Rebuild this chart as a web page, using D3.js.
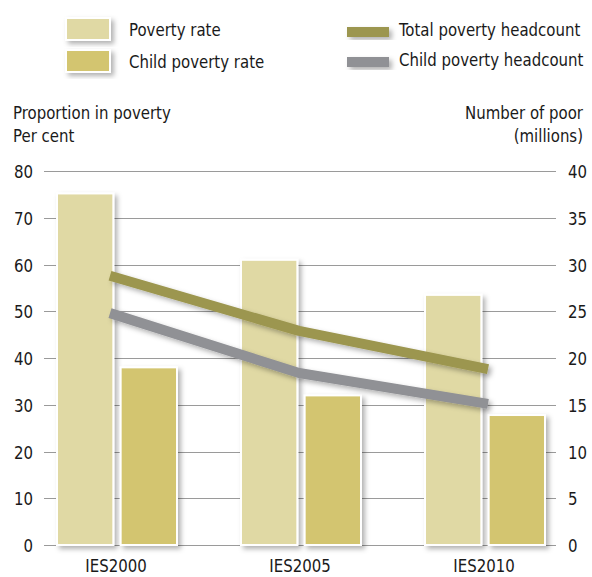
<!DOCTYPE html>
<html>
<head>
<meta charset="utf-8">
<script src="https://cdn.jsdelivr.net/npm/d3@7/dist/d3.min.js"></script>
<style>
  html, body { margin: 0; padding: 0; background: #fff; }
  svg { display: block; }
  text { font-family: "DejaVu Sans Condensed", "Liberation Sans Narrow", sans-serif; fill: #1a1a1a; font-size: 18.5px; }
</style>
</head>
<body>
<svg id="chart" width="592" height="577"></svg>
<script>
// Survey rounds
const categories = ["IES2000", "IES2005", "IES2010"];
// Per cent of population below the poverty line
const povertyRate = [75.2, 61, 53.5];
const childPovertyRate = [38, 32, 27.8];
// Number of poor, millions
const totalHeadcount = [28.8, 22.9, 18.8];
const childHeadcount = [24.8, 18.4, 15.1];
// Axis ticks
const leftTicks = [0, 10, 20, 30, 40, 50, 60, 70, 80];
const rightTicks = [0, 5, 10, 15, 20, 25, 30, 35, 40];

const colors = {
  pov: "#e0d9a4",
  child: "#d3c56f",
  total: "#9c964f",
  childLine: "#909195",
  grid: "#9a9a9a"
};

// Narrow the glyphs horizontally to get a condensed face
const SQUEEZE = "scale(0.9,1)";

const svg = d3.select("#chart");

const defs = svg.append("defs");
const shadow = defs.append("filter").attr("id", "shadow")
  .attr("x", "-20%").attr("y", "-20%").attr("width", "150%").attr("height", "150%");
shadow.append("feDropShadow")
  .attr("dx", 3).attr("dy", 3).attr("stdDeviation", 2.5)
  .attr("flood-color", "#000").attr("flood-opacity", 0.3);

// Scales
const yLeft = d3.scaleLinear().domain([0, 80]).range([545, 171]);
const yRight = d3.scaleLinear().domain([0, 40]).range([545, 171]);
const xGroup = d3.scaleBand().domain(categories).range([57, 609]).paddingInner(0).paddingOuter(0);
const xSeries = d3.scaleBand().domain(["pov", "child"]).range([0, 120]).paddingInner(0.115);
// Headcount lines run from the right edge of the first bar to just past the last group
const xLine = d3.scalePoint().domain(categories).range([110, 488]);

// Place a squeezed text at (x, y)
function label(parent, x, y, txt, anchor) {
  return parent.append("g").attr("transform", `translate(${x},${y}) ${SQUEEZE}`)
    .append("text").attr("text-anchor", anchor || "start").text(txt);
}

// Grid lines with ticks on both sides
svg.append("g").selectAll("line").data(leftTicks).join("line")
  .attr("x1", 44).attr("x2", 556)
  .attr("y1", d => Math.round(yLeft(d)) + 0.5)
  .attr("y2", d => Math.round(yLeft(d)) + 0.5)
  .attr("stroke", colors.grid).attr("stroke-width", 1.2);

const leftAxis = d3.axisLeft(yLeft).tickValues(leftTicks).tickSize(0).tickPadding(0);
const gl = svg.append("g").attr("transform", "translate(33,0)").call(leftAxis);
gl.select(".domain").remove();
gl.attr("font-size", null).attr("font-family", null);
gl.selectAll("text").attr("dy", "0.36em").attr("transform", SQUEEZE).attr("fill", "#1a1a1a");

const rightAxis = d3.axisRight(yRight).tickValues(rightTicks).tickSize(0).tickPadding(0);
const gr = svg.append("g").attr("transform", "translate(568,0)").call(rightAxis);
gr.select(".domain").remove();
gr.attr("font-size", null).attr("font-family", null);
gr.selectAll("text").attr("dy", "0.36em").attr("transform", SQUEEZE).attr("fill", "#1a1a1a");

// Bars
const barData = categories.flatMap((c, i) => [
  { cat: c, key: "pov", value: povertyRate[i] },
  { cat: c, key: "child", value: childPovertyRate[i] }
]);
svg.append("g").selectAll("rect").data(barData).join("rect")
  .attr("x", d => xGroup(d.cat) + xSeries(d.key))
  .attr("y", d => yLeft(d.value))
  .attr("width", xSeries.bandwidth())
  .attr("height", d => yLeft(0) - yLeft(d.value))
  .attr("fill", d => colors[d.key])
  .attr("stroke", "#fff").attr("stroke-width", 2)
  .attr("filter", "url(#shadow)");

// Headcount lines
const line = d3.line().x((d, i) => xLine(categories[i])).y(d => yRight(d));
const lines = svg.append("g");
[[totalHeadcount, colors.total], [childHeadcount, colors.childLine]].forEach(([vals, col]) => {
  lines.append("path").datum(vals)
    .attr("d", line)
    .attr("fill", "none").attr("stroke", col).attr("stroke-width", 10)
    .attr("stroke-linejoin", "round")
    .attr("filter", "url(#shadow)");
});

// Category labels
const cl = svg.append("g");
categories.forEach(c => label(cl, xGroup(c) + 59, 572, c, "middle"));

// Axis titles
const titles = svg.append("g");
label(titles, 13, 119, "Proportion in poverty");
label(titles, 13, 142, "Per cent");
label(titles, 583, 119, "Number of poor", "end");
label(titles, 583, 142, "(millions)", "end");

// Legend
const legendBars = [
  { label: "Poverty rate", key: "pov" },
  { label: "Child poverty rate", key: "child" }
];
const legendLines = [
  { label: "Total poverty headcount", key: "total" },
  { label: "Child poverty headcount", key: "childLine" }
];
const lb = svg.append("g").selectAll("g").data(legendBars).join("g")
  .attr("transform", (d, i) => `translate(66,${18 + i * 32})`);
lb.append("rect").attr("width", 44).attr("height", 22)
  .attr("fill", d => colors[d.key]).attr("stroke", "#fff").attr("stroke-width", 2)
  .attr("filter", "url(#shadow)");
lb.each(function (d) { label(d3.select(this), 63, 18, d.label); });

const ll = svg.append("g").selectAll("g").data(legendLines).join("g")
  .attr("transform", (d, i) => `translate(347,${27 + i * 30})`);
ll.append("rect").attr("width", 42).attr("height", 10)
  .attr("fill", d => colors[d.key]).attr("filter", "url(#shadow)");
ll.each(function (d) { label(d3.select(this), 52, 9, d.label); });
</script>
</body>
</html>
